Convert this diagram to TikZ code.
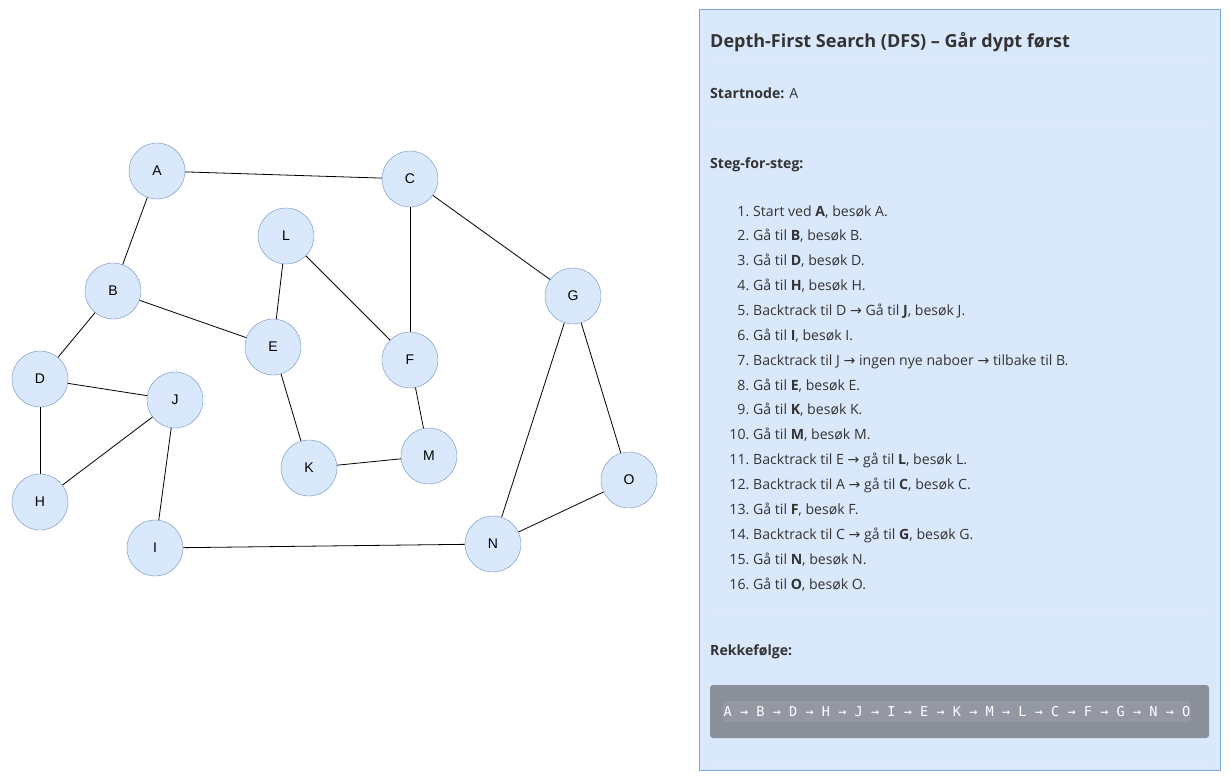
\documentclass[tikz,border=0pt]{standalone}
\usepackage{fontspec}
\setmainfont{Open Sans}
\newfontfamily\nodefont{Liberation Sans}
\newfontfamily\arrowfont{DejaVu Sans}
\newfontfamily\codefont{DejaVu Sans Mono}
\newcommand{\rarrow}{{\arrowfont\char"2192}}
\definecolor{nodefill}{HTML}{DAE8FC}
\definecolor{nodeline}{HTML}{6C8EBF}
\definecolor{panelfill}{HTML}{DAE8FC}
\definecolor{panelline}{HTML}{7EA6E0}
\definecolor{sepline}{HTML}{E1ECFB}
\definecolor{textdark}{HTML}{333333}
\definecolor{codebox}{HTML}{8A8F9A}
\definecolor{codeinner}{HTML}{9398A2}
\tikzset{
  vertex/.style={circle, draw=nodeline, fill=nodefill, minimum size=56pt, inner sep=0pt, font=\nodefont\fontsize{14}{16}\selectfont},
  edge/.style={draw=black, line width=0.8pt},
  paneltext/.style={anchor=base west, inner sep=0pt, text=textdark, font=\fontsize{14.1}{17}\selectfont},
  panelhead/.style={paneltext, font=\bfseries\fontsize{14.1}{17}\selectfont},
}
\begin{document}
\begin{tikzpicture}[x=1pt, y=-1pt]
\useasboundingbox (0,0) rectangle (1230,778);
\node[vertex] (A) at (157,171) {A};
\node[vertex] (C) at (410,179) {C};
\node[vertex] (L) at (286,236) {L};
\node[vertex] (B) at (113,291) {B};
\node[vertex] (G) at (573,296) {G};
\node[vertex] (E) at (273,347) {E};
\node[vertex] (F) at (410,360) {F};
\node[vertex] (D) at (40,379) {D};
\node[vertex] (J) at (175,400) {J};
\node[vertex] (M) at (429,456) {M};
\node[vertex] (K) at (309,468) {K};
\node[vertex] (O) at (629,480) {O};
\node[vertex] (H) at (40,502) {H};
\node[vertex] (I) at (155,548) {I};
\node[vertex] (N) at (493,544) {N};
\foreach \u/\v in {A/C, A/B, B/D, B/E, D/J, D/H, H/J, J/I, I/N, L/E, L/F, C/F, C/G, E/K, K/M, F/M, G/N, G/O, N/O}
  \draw[edge] (\u) -- (\v);
\draw[draw=panelline, fill=panelfill] (699.5,9.5) rectangle (1220.5,770.5);
\foreach \y in {60,125,612,762}
  \draw[sepline] (710,\y) -- (1209,\y);
\node[paneltext, font=\bfseries\fontsize{18}{22}\selectfont] (title) at (710,47.5) {Depth-First Search (DFS) – Går dypt først};
\node[panelhead] (start) at (710,99) {Startnode: \textmd{A}};
\node[panelhead] (steps) at (710,168) {Steg-for-steg:};
\foreach \n/\t [count=\i from 0] in {
  1/{Start ved \textbf{A}, besøk A.},
  2/{Gå til \textbf{B}, besøk B.},
  3/{Gå til \textbf{D}, besøk D.},
  4/{Gå til \textbf{H}, besøk H.},
  5/{Backtrack til D \rarrow\ Gå til \textbf{J}, besøk J.},
  6/{Gå til \textbf{I}, besøk I.},
  7/{Backtrack til J \rarrow\ ingen nye naboer \rarrow\ tilbake til B.},
  8/{Gå til \textbf{E}, besøk E.},
  9/{Gå til \textbf{K}, besøk K.},
  10/{Gå til \textbf{M}, besøk M.},
  11/{Backtrack til E \rarrow\ gå til \textbf{L}, besøk L.},
  12/{Backtrack til A \rarrow\ gå til \textbf{C}, besøk C.},
  13/{Gå til \textbf{F}, besøk F.},
  14/{Backtrack til C \rarrow\ gå til \textbf{G}, besøk G.},
  15/{Gå til \textbf{N}, besøk N.},
  16/{Gå til \textbf{O}, besøk O.}} {
  \node[paneltext, anchor=base east] (num\n) at (749.5,{216+\i*24.87}) {\n.};
  \node[paneltext] (step\n) at (753,{216+\i*24.87}) {\t};
}
\node[panelhead] (order) at (710,655) {Rekkefølge:};
\draw[fill=codebox, draw=none, rounded corners=3pt] (710,685) rectangle (1209,738);
\draw[fill=codeinner, draw=none, rounded corners=3pt] (723,701) rectangle (1191,722);
\node[text=white, font=\codefont\fontsize{13.6}{16}\selectfont, inner sep=0pt] (seq) at (957,712)
  {A → B → D → H → J → I → E → K → M → L → C → F → G → N → O};
\end{tikzpicture}
\end{document}
